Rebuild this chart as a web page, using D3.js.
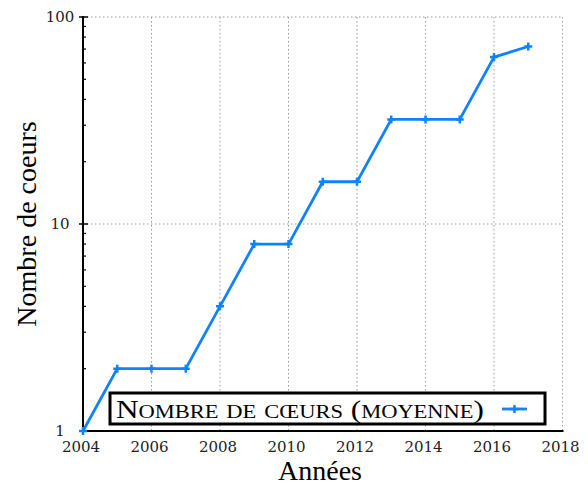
<!DOCTYPE html>
<html>
<head>
<meta charset="utf-8">
<script src="https://cdn.jsdelivr.net/npm/d3@7"></script>
<style>
  body { margin: 0; background: #fff; }
  text { font-family: "Liberation Serif", "DejaVu Serif", serif; }
  .tick { font-family: "DejaVu Serif", serif; }
</style>
</head>
<body>
<svg id="chart" width="588" height="487"></svg>
<script>
// Data
var years = [2004, 2005, 2006, 2007, 2008, 2009, 2010, 2011, 2012, 2013, 2014, 2015, 2016, 2017];
var cores = [1, 2, 2, 2, 4, 8, 8, 16, 16, 32, 32, 32, 64, 72];
var xTicks = [2004, 2006, 2008, 2010, 2012, 2014, 2016, 2018];
var yTicks = [1, 10, 100];
var seriesName = "Nombre de cœurs (moyenne)";

var svg = d3.select("#chart");
var plotL = 83, plotR = 562.5, plotT = 17, plotB = 431;
var blue = "#0f82ff";

var x = d3.scaleLinear().domain([2004, 2018]).range([plotL, plotR]);
var y = d3.scaleLog().domain([1, 100]).range([plotB, plotT]);

// dotted grid + top/right frame
var grid = svg.append("g").attr("stroke", "#999").attr("stroke-width", 1).attr("stroke-dasharray", "1.5,2.5");
xTicks.slice(1).forEach(function(t){
	grid.append("line").attr("x1", x(t)).attr("x2", x(t)).attr("y1", plotT).attr("y2", plotB);
});
yTicks.slice(1).forEach(function(t){
	grid.append("line").attr("x1", plotL).attr("x2", plotR).attr("y1", y(t)).attr("y2", y(t));
});

// minor ticks on the log axis
var minor = [];
[1, 10].forEach(function(d){ for (var k = 2; k <= 9; k++) minor.push(d*k); });
svg.append("g").selectAll("line").data(minor).enter().append("line")
	.attr("x1", plotL).attr("x2", plotL + 3)
	.attr("y1", function(d){ return y(d); }).attr("y2", function(d){ return y(d); })
	.attr("stroke", "#000").attr("stroke-width", 1.2);
svg.append("g").selectAll("line").data(yTicks).enter().append("line")
	.attr("x1", plotL - 4).attr("x2", plotL + 5)
	.attr("y1", function(d){ return y(d); }).attr("y2", function(d){ return y(d); })
	.attr("stroke", "#000").attr("stroke-width", 1.5);

// axes
svg.append("line").attr("x1", plotL).attr("x2", plotL).attr("y1", plotT - 1).attr("y2", plotB + 1)
	.attr("stroke", "#000").attr("stroke-width", 2);
svg.append("line").attr("x1", plotL - 1).attr("x2", plotR + 1).attr("y1", plotB).attr("y2", plotB)
	.attr("stroke", "#000").attr("stroke-width", 2);

// tick labels
svg.append("g").selectAll("text").data(yTicks).enter().append("text")
	.attr("class", "tick")
	.attr("x", 60).attr("y", function(d){ return y(d) + 5; })
	.attr("text-anchor", "middle").attr("font-size", 15).attr("fill", "#222")
	.text(function(d){ return d; });
svg.append("g").selectAll("text").data(xTicks).enter().append("text")
	.attr("class", "tick")
	.attr("x", function(d){ return x(d) - 2; }).attr("y", 452)
	.attr("text-anchor", "middle").attr("font-size", 15).attr("fill", "#222")
	.text(function(d){ return d; });

// axis titles
svg.append("text").attr("x", 320).attr("y", 480)
	.attr("text-anchor", "middle").attr("font-size", 28).text("Années");
svg.append("text").attr("transform", "translate(36," + ((plotT + plotB) / 2) + ") rotate(-90)")
	.attr("text-anchor", "middle").attr("font-size", 28).text("Nombre de coeurs");

// series line
var line = d3.line().x(function(d, i){ return x(years[i]); }).y(function(d){ return y(d); });
svg.append("path").datum(cores).attr("d", line)
	.attr("fill", "none").attr("stroke", blue).attr("stroke-width", 2.8).attr("stroke-linejoin", "round");

svg.append("g").selectAll("path").data(cores).enter().append("path")
	.attr("d", "M-4,0H4M0,-4V4")
	.attr("transform", function(d, i){ return "translate(" + x(years[i]) + "," + y(d) + ")"; })
	.attr("stroke", blue).attr("stroke-width", 2.5).attr("fill", "none");

// legend
var lg = svg.append("g");
lg.append("rect").attr("x", 110).attr("y", 393).attr("width", 435).attr("height", 31)
	.attr("fill", "#fff").attr("stroke", "#000").attr("stroke-width", 3);
lg.append("text").attr("x", 116).attr("y", 418).attr("font-size", 25)
	.style("font-variant", "small-caps").attr("textLength", 368).attr("lengthAdjust", "spacingAndGlyphs")
	.text(seriesName);
lg.append("line").attr("x1", 502).attr("x2", 527).attr("y1", 409).attr("y2", 409)
	.attr("stroke", blue).attr("stroke-width", 2.8);
lg.append("path").attr("d", "M-4,0H4M0,-4V4").attr("transform", "translate(514.5,409)")
	.attr("stroke", blue).attr("stroke-width", 2.5);
</script>
</body>
</html>
